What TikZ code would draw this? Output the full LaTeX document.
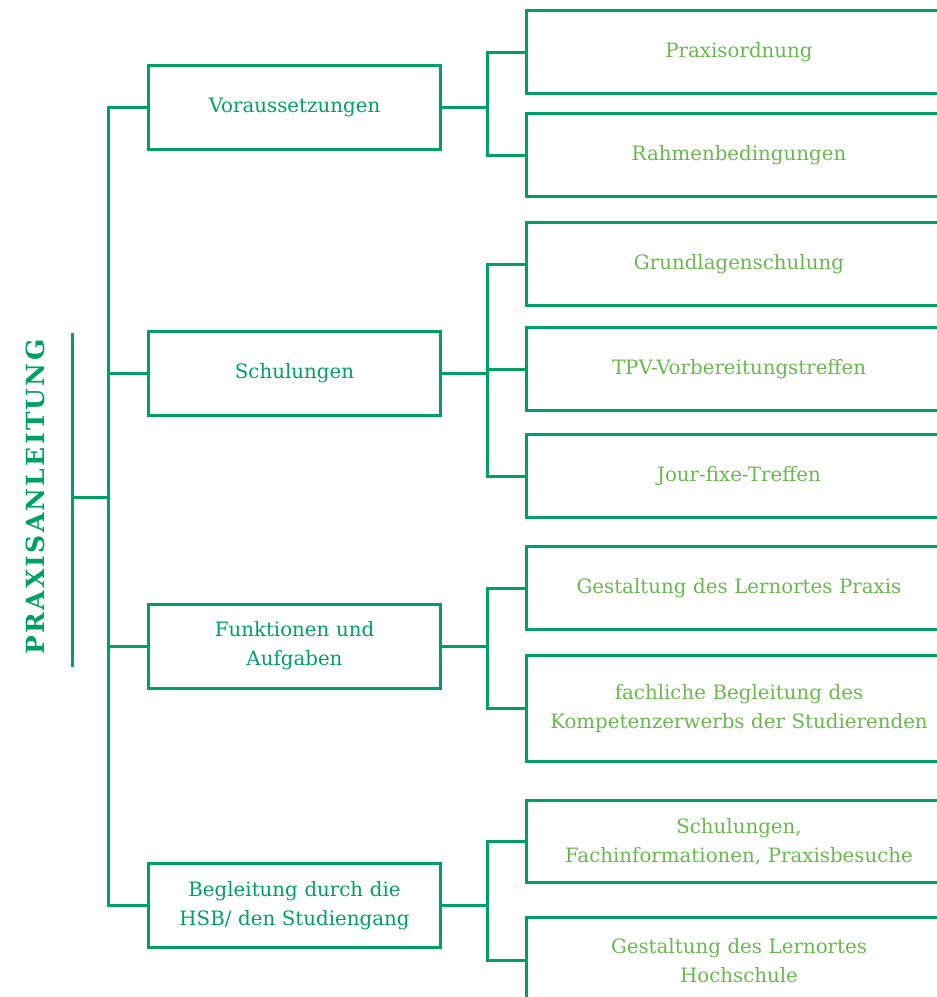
\documentclass[tikz,border=0pt]{standalone}
\usepackage{fontspec}
\setmainfont{DejaVu Serif}
\newfontfamily\titlefont[LetterSpace=9]{DejaVu Serif}
\usetikzlibrary{positioning}
\definecolor{hsbdark}{RGB}{0,160,100}
\definecolor{hsblight}{RGB}{106,183,80}
\tikzstyle{mainbox} = [rectangle, draw=hsbdark, line width=3pt, minimum width=291pt, minimum height=84pt, text width=285pt, align=center, text=hsbdark, font=\fontsize{19.8}{29}\selectfont]
\tikzstyle{subbox} = [rectangle, draw=hsbdark, line width=3pt, minimum width=426pt, minimum height=83pt, text width=415pt, align=center, text=hsblight, font=\fontsize{19.8}{29}\selectfont]
\tikzstyle{link} = [draw=hsbdark, line width=3pt]

\begin{document}
\begin{tikzpicture}[x=1pt, y=-1pt]
      \clip (0,0) rectangle (937,997);

      % Titel
      \node (title) [rotate=90, text=hsbdark, font=\titlefont\fontsize{25}{25}\bfseries] at (35,497) {PRAXISANLEITUNG};
      \coordinate (bartop) at (72,333);
      \coordinate (barbot) at (72,667);
      \coordinate (barmid) at (72,497);

      % erste Ebene
      \node (voraus) [mainbox] at (294.5,107) {Voraussetzungen};
      \node (schul) [mainbox] at (294.5,373.5) {Schulungen};
      \node (funk) [mainbox] at (294.5,646) {Funktionen und\\Aufgaben};
      \node (begl) [mainbox] at (294.5,905.5) {Begleitung durch die\\HSB/ den Studiengang};

      % zweite Ebene
      \node (praxis) [subbox] at (739,52) {Praxisordnung};
      \node (rahmen) [subbox] at (739,155) {Rahmenbedingungen};
      \node (grund) [subbox] at (739,264) {Grundlagenschulung};
      \node (tpv) [subbox] at (739,369) {TPV-Vorbereitungstreffen};
      \node (jour) [subbox] at (739,476) {Jour-fixe-Treffen};
      \node (lernpraxis) [subbox] at (739,588) {Gestaltung des Lernortes Praxis};
      \node (fachlich) [subbox, minimum height=106pt] at (739,708.5) {fachliche Begleitung des\\Kompetenzerwerbs der Studierenden};
      \node (schulinfo) [subbox, minimum height=82pt] at (739,841.5) {Schulungen,\\Fachinformationen, Praxisbesuche};
      \node (lernhs) [subbox, minimum height=86pt] at (739,960.5) {Gestaltung des Lernortes\\Hochschule};

      % Verbindungen links
      \draw[link] (bartop) -- (barbot);
      \draw[link] (barmid) -- ++(36.5,0);
      \draw[link] (voraus.west) -- ++(-39,0) |- (begl.west);
      \draw[link] (schul.west) -- ++(-39,0);
      \draw[link] (funk.west) -- ++(-39,0);

      % Verbindungen rechts
      \draw[link] (voraus.east) -- ++(46,0);
      \draw[link] (praxis.west) -- ++(-37,0) |- (rahmen.west);
      \draw[link] (schul.east) -- ++(46,0);
      \draw[link] (grund.west) -- ++(-37,0) |- (jour.west);
      \draw[link] (tpv.west) -- ++(-37,0);
      \draw[link] (funk.east) -- ++(46,0);
      \draw[link] (lernpraxis.west) -- ++(-37,0) |- (fachlich.west);
      \draw[link] (begl.east) -- ++(46,0);
      \draw[link] (schulinfo.west) -- ++(-37,0) |- (lernhs.west);
    \end{tikzpicture}
\end{document}
